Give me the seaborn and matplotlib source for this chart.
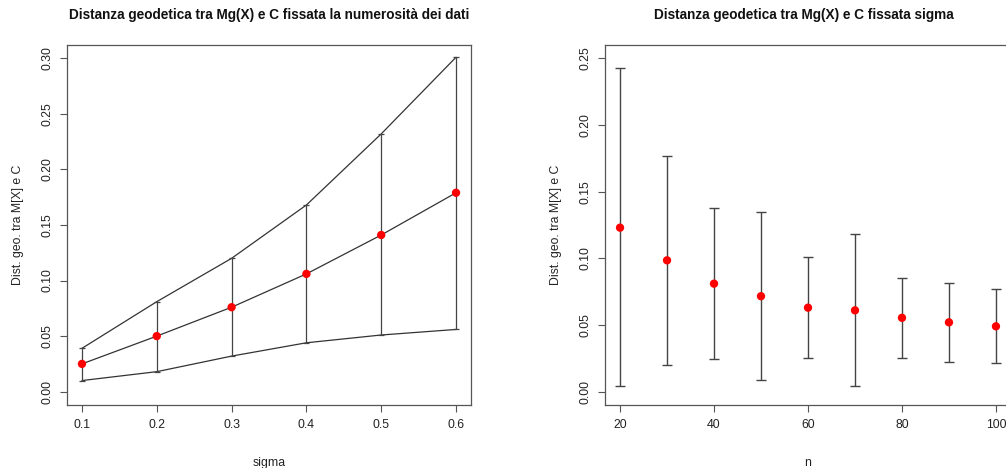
import matplotlib
matplotlib.use("Agg")
import matplotlib.pyplot as plt
import seaborn as sns
import pandas as pd
import numpy as np

# Left panel data: distance vs sigma (fixed sample size)
sigma = [0.1, 0.2, 0.3, 0.4, 0.5, 0.6]
sigma_mean = [0.025, 0.050, 0.076, 0.106, 0.141, 0.179]
sigma_upper = [0.039, 0.081, 0.120, 0.168, 0.232, 0.301]
sigma_lower = [0.010, 0.018, 0.032, 0.044, 0.051, 0.056]

# Right panel data: distance vs n (fixed sigma)
n_vals = [20, 30, 40, 50, 60, 70, 80, 90, 100]
n_mean = [0.123, 0.0985, 0.081, 0.0716, 0.063, 0.061, 0.0554, 0.052, 0.049]
n_upper = [0.2425, 0.177, 0.1377, 0.1347, 0.101, 0.1183, 0.0856, 0.0816, 0.0771]
n_lower = [0.004, 0.0202, 0.0242, 0.0087, 0.0249, 0.004, 0.0249, 0.0219, 0.0212]

sns.set_style("white")
plt.rcParams['font.family'] = ['Liberation Sans', 'DejaVu Sans']

fig = plt.figure(figsize=(10.06, 4.68), dpi=100)
W, H = 1006, 468
ax1 = fig.add_axes([67 / W, 63 / H, 404 / W, 360 / H])
ax2 = fig.add_axes([605 / W, 63 / H, 406 / W, 360 / H])

line_col = "#333333"
err_col = "#444444"

df1 = pd.DataFrame({"sigma": sigma, "mean": sigma_mean, "upper": sigma_upper, "lower": sigma_lower})
for col in ["upper", "mean", "lower"]:
    sns.lineplot(data=df1, x="sigma", y=col, ax=ax1, color=line_col, lw=0.9, zorder=2)
ax1.errorbar(df1["sigma"], df1["mean"],
             yerr=[df1["mean"] - df1["lower"], df1["upper"] - df1["mean"]],
             fmt="none", ecolor=err_col, elinewidth=0.9, capsize=2.5, capthick=0.9, zorder=2)
sns.scatterplot(data=df1, x="sigma", y="mean", ax=ax1, color="#ff0000", s=36,
                edgecolor="none", zorder=3)
ax1.set_xlim(0.08, 0.62)
ax1.set_ylim(-0.012, 0.312)
ax1.set_xticks(sigma)
ax1.set_xticklabels([f"{v:.1f}" for v in sigma])
yt1 = [0.00, 0.05, 0.10, 0.15, 0.20, 0.25, 0.30]
ax1.set_yticks(yt1)
ax1.set_yticklabels([f"{v:.2f}" for v in yt1])

df2 = pd.DataFrame({"n": n_vals, "mean": n_mean, "upper": n_upper, "lower": n_lower})
ax2.errorbar(df2["n"], df2["mean"],
             yerr=[df2["mean"] - df2["lower"], df2["upper"] - df2["mean"]],
             fmt="none", ecolor=err_col, elinewidth=1.0, capsize=3.5, capthick=1.0, zorder=2)
sns.scatterplot(data=df2, x="n", y="mean", ax=ax2, color="#ff0000", s=36,
                edgecolor="none", zorder=3)
ax2.set_xlim(16.8, 103.2)
ax2.set_ylim(-0.01, 0.26)
xt2 = [20, 40, 60, 80, 100]
ax2.set_xticks(xt2)
ax2.set_xticklabels([str(v) for v in xt2])
yt2 = [0.00, 0.05, 0.10, 0.15, 0.20, 0.25]
ax2.set_yticks(yt2)
ax2.set_yticklabels([f"{v:.2f}" for v in yt2])

titles = ["Distanza geodetica tra Mg(X) e C fissata la numerosità dei dati",
          "Distanza geodetica tra Mg(X) e C fissata sigma"]
xlabels = ["sigma", "n"]
for ax, t, xl in zip([ax1, ax2], titles, xlabels):
    for sp in ax.spines.values():
        sp.set_visible(True)
        sp.set_color("#555555")
        sp.set_linewidth(0.9)
    ax.tick_params(axis="both", which="both", direction="out", length=5, width=0.8,
                   color="#555555", labelsize=8.8, labelcolor="#222222", pad=5,
                   bottom=True, left=True)
    for lab in ax.get_yticklabels():
        lab.set_rotation(90)
        lab.set_va("center")
    ax.set_title(t, fontsize=9.8, fontweight="bold", pad=19, color="#111111")
    ax.set_xlabel(xl, fontsize=8.8, labelpad=19, color="#222222")
    ax.set_ylabel("Dist. geo. tra M[X] e C", fontsize=8.8, labelpad=12, color="#222222")

# Center right title within visible figure as in reference
ax2.title.set_position((0.49, 1.0))

fig.savefig("out.png", dpi=100)
